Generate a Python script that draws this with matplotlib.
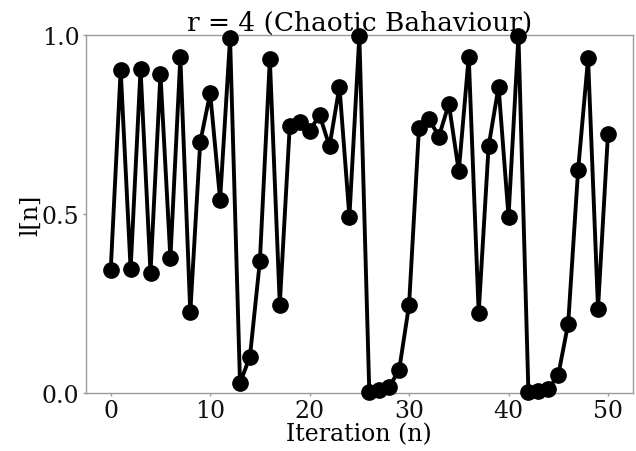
#!/usr/bin/env python3
"""Logistic map, r = 4: iterates l[n] versus n."""

import matplotlib
matplotlib.use("Agg")
import matplotlib.pyplot as plt

# values
iteration = list(range(51))
l_values = [
    0.344, 0.902, 0.346, 0.904, 0.336, 0.890, 0.376, 0.937, 0.225, 0.700,
    0.837, 0.540, 0.990, 0.028, 0.102, 0.369, 0.932, 0.247, 0.744, 0.757,
    0.732, 0.776, 0.689, 0.855, 0.492, 0.997, 0.004, 0.008, 0.018, 0.064,
    0.246, 0.741, 0.765, 0.716, 0.807, 0.619, 0.939, 0.223, 0.689, 0.855,
    0.492, 0.997, 0.003, 0.006, 0.012, 0.050, 0.194, 0.623, 0.934, 0.236,
    0.723,
]
y_ticks = [0.0, 0.5, 1.0]
x_ticks = [0, 10, 20, 30, 40, 50]

plt.rcParams.update({
    "font.family": "DejaVu Serif",
    "font.size": 17,
})

fig = plt.figure(figsize=(6.36, 4.52), dpi=100, facecolor="white")
ax = fig.add_axes([0.135, 0.128, 0.86, 0.793])

ax.plot(iteration, l_values, color="black", lw=2.8,
        marker="o", markersize=11, zorder=3, clip_on=False)

ax.set_ylim(0, 1)
ax.set_xlim(-2.5, 52.5)
ax.set_yticks(y_ticks)
ax.set_xticks(x_ticks)

for side in ("left", "right", "top", "bottom"):
    ax.spines[side].set_color("#9a9a9a")
    ax.spines[side].set_linewidth(1.0)
ax.tick_params(colors="#9a9a9a", labelcolor="#111111", length=2.5,
               width=1.0, labelsize=17, pad=2)

ax.set_title("r = 4 (Chaotic Bahaviour)", fontsize=19, pad=1)
ax.set_xlabel("Iteration (n)", fontsize=17, labelpad=0)
ax.set_ylabel("l[n]", fontsize=17, labelpad=0)

fig.savefig("out.png", dpi=100, facecolor="white")
plt.close(fig)
